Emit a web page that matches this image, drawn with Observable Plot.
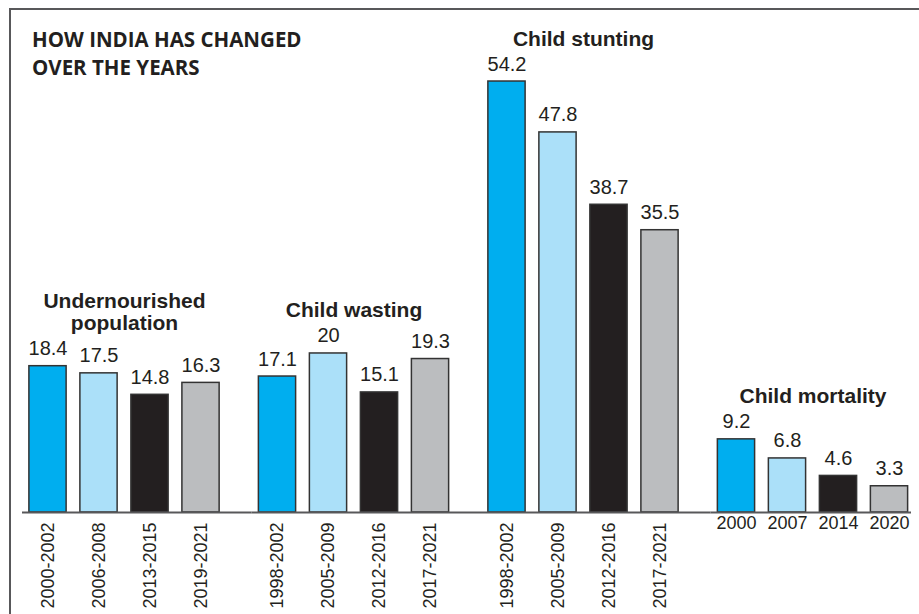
<!DOCTYPE html>
<html>
<head>
<meta charset="utf-8">
<script src="https://cdn.jsdelivr.net/npm/d3@7"></script>
<script src="https://cdn.jsdelivr.net/npm/@observablehq/plot@0.6"></script>
<style>
  html, body { margin: 0; padding: 0; background: #ffffff; }
  #chart { position: relative; width: 919px; height: 614px; overflow: hidden; background: #ffffff; }
  #chart svg { position: absolute; left: 0; top: 0; }
  #frame {
    position: absolute; left: 9px; top: 8px; width: 960px; height: 700px;
    border-left: 2px solid #58585a; border-top: 2px solid #58585a; box-sizing: border-box;
    pointer-events: none;
  }
  #title {
    position: absolute; left: 32px; top: 25px; margin: 0;
    font-family: "Open Sans", sans-serif; font-weight: 700; font-size: 20.5px; line-height: 28px;
    color: #231f20;
  }
</style>
</head>
<body>
<div id="chart">
  <div id="frame"></div>
  <h1 id="title">HOW INDIA HAS CHANGED<br>OVER THE YEARS</h1>
</div>
<script>
// Indicator groups and their headings
const groups = ["Undernourished population", "Child wasting", "Child stunting", "Child mortality"];
const groupTitles = ["Undernourished\npopulation", "Child wasting", "Child stunting", "Child mortality"];

// Survey periods for each indicator
const undernourishedPeriods = ["2000-2002", "2006-2008", "2013-2015", "2019-2021"];
const wastingPeriods = ["1998-2002", "2005-2009", "2012-2016", "2017-2021"];
const stuntingPeriods = ["1998-2002", "2005-2009", "2012-2016", "2017-2021"];
const mortalityYears = ["2000", "2007", "2014", "2020"];

// Values (%)
const undernourishedValues = [18.4, 17.5, 14.8, 16.3];
const wastingValues = [17.1, 20, 15.1, 19.3];
const stuntingValues = [54.2, 47.8, 38.7, 35.5];
const mortalityValues = [9.2, 6.8, 4.6, 3.3];

// One colour per position in the time sequence
const barColors = ["#00aeef", "#abe0f9", "#231f20", "#bbbdbf"];

const periodLists = [undernourishedPeriods, wastingPeriods, stuntingPeriods, mortalityYears];
const valueLists = [undernourishedValues, wastingValues, stuntingValues, mortalityValues];

const rows = groups.flatMap((group, k) =>
  valueLists[k].map((value, i) => ({group, i, period: periodLists[k][i], value, rotated: k < 3}))
);
const titles = groups.map((group, k) => ({group, title: groupTitles[k], top: d3.max(valueLists[k])}));
const baseline = groups.map((group, k) => ({group, last: k === groups.length - 1}));

const ink = "#231f20";
const sans = "'Liberation Sans', Arial, sans-serif";

const chart = Plot.plot({
  width: 919,
  height: 614,
  marginTop: 19,
  marginBottom: 102,
  marginLeft: 22,
  marginRight: 4.5,
  style: {background: "transparent", fontFamily: sans, color: ink},
  fx: {domain: groups, paddingInner: 0.111, paddingOuter: 0, round: false, axis: null},
  x: {domain: [0, 1, 2, 3], paddingInner: 0.27, paddingOuter: 0.135, round: false, axis: null},
  y: {domain: [0, 62], axis: null},
  color: {type: "ordinal", domain: [0, 1, 2, 3], range: barColors},
  marks: [
    Plot.barY(rows, {fx: "group", x: "i", y: "value", fill: "i", stroke: "#333333", strokeWidth: 1.5}),
    // continuous baseline across the groups
    Plot.ruleY(baseline.filter(d => !d.last), {fx: "group", y: 0, stroke: "#58585a", strokeWidth: 2, insetRight: -25.5}),
    Plot.ruleY(baseline.filter(d => d.last), {fx: "group", y: 0, stroke: "#58585a", strokeWidth: 2, insetRight: 3.5}),
    // values above the bars
    Plot.text(rows, {
      fx: "group", x: "i", y: "value", text: d => String(d.value),
      lineAnchor: "bottom", dy: -11, fontSize: 20, fill: ink, fontFamily: sans
    }),
    // group headings
    Plot.text(titles, {
      fx: "group", y: "top", text: "title",
      lineAnchor: "bottom", lineHeight: 1.05, dy: -36, fontSize: 21, fontWeight: "bold",
      fill: ink, fontFamily: sans
    }),
    // rotated period labels
    Plot.text(rows.filter(d => d.rotated), {
      fx: "group", x: "i", y: 0, text: "period", rotate: -90, textAnchor: "end",
      lineAnchor: "middle", dy: 10, fontSize: 18, fill: ink, fontFamily: sans
    }),
    // horizontal year labels
    Plot.text(rows.filter(d => !d.rotated), {
      fx: "group", x: "i", y: 0, text: "period",
      lineAnchor: "top", dy: 4, fontSize: 18, fill: ink, fontFamily: sans
    })
  ]
});

document.getElementById("chart").prepend(chart);
</script>
</body>
</html>
